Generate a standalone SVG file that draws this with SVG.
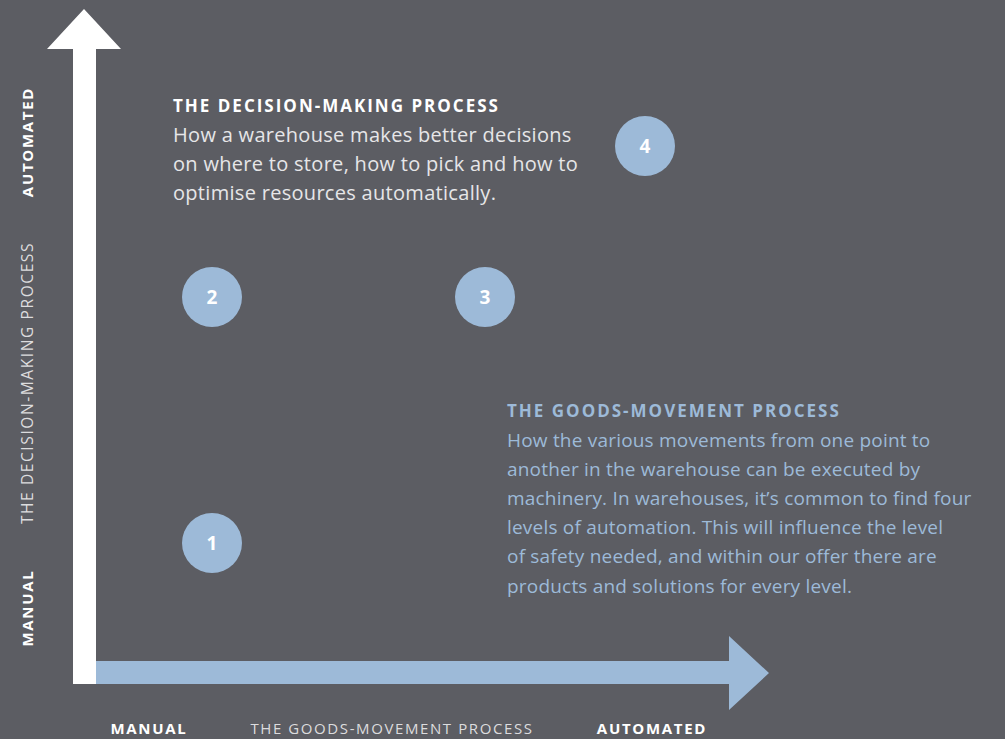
<svg xmlns="http://www.w3.org/2000/svg" width="1005" height="739" viewBox="0 0 1005 739">
<style>
.bg{fill:#5c5d63}
.num{fill:#9dbad8}
.numt{font-family:"Open Sans",Lato,sans-serif;font-weight:700;font-size:19px;fill:#ffffff;text-anchor:middle}
.ax{font-family:"Open Sans",Lato,sans-serif;font-weight:700;font-size:15px;fill:#ffffff;letter-spacing:1.7px}
.axl{font-family:"Open Sans",Lato,sans-serif;font-weight:400;font-size:15px;fill:#dcdcde;letter-spacing:1.6px}
.h{font-family:"Open Sans",Lato,sans-serif;font-weight:700;font-size:17px;letter-spacing:2px}
.b{font-family:"Open Sans",Lato,sans-serif;font-weight:400;font-size:19px;letter-spacing:0.2px}
.b2{font-family:"Open Sans",Lato,sans-serif;font-weight:400;font-size:20px;letter-spacing:0.3px}
</style>
<rect class="bg" x="0" y="0" width="1005" height="739"/>
<g id="connectors">
<polygon id="y-axis" fill="#ffffff" points="73,684 73,49 47,49 84,9 121,49 96,49 96,684"/>
<polygon id="x-axis" fill="#9dbad8" points="96,661 729,661 729,636 769,673 729,710 729,684 96,684"/>
</g>
<g id="axis-labels">
<text class="ax" x="149" y="734" text-anchor="middle">MANUAL</text>
<text class="axl" x="392" y="734" text-anchor="middle">THE GOODS-MOVEMENT PROCESS</text>
<text class="ax" x="652" y="734" text-anchor="middle">AUTOMATED</text>
<text class="ax" transform="translate(33,142) rotate(-90)" text-anchor="middle">AUTOMATED</text>
<text class="axl" transform="translate(33,383) rotate(-90)" text-anchor="middle" style="font-size:15.5px">THE DECISION-MAKING PROCESS</text>
<text class="ax" transform="translate(33,608) rotate(-90)" text-anchor="middle">MANUAL</text>
</g>
<g id="node-1"><circle class="num" cx="212" cy="543" r="30"/><text class="numt" x="212" y="550">1</text></g>
<g id="node-2"><circle class="num" cx="212" cy="297" r="30"/><text class="numt" x="212" y="304">2</text></g>
<g id="node-3"><circle class="num" cx="485" cy="297" r="30"/><text class="numt" x="485" y="304">3</text></g>
<g id="node-4"><circle class="num" cx="645" cy="146" r="30"/><text class="numt" x="645" y="153">4</text></g>
<g id="decision-text">
<text class="h" x="173" y="112" fill="#ffffff">THE DECISION-MAKING PROCESS</text>
<text class="b2" fill="#e6e6e8">
<tspan x="173" y="142">How a warehouse makes better decisions</tspan>
<tspan x="173" y="171">on where to store, how to pick and how to</tspan>
<tspan x="173" y="200">optimise resources automatically.</tspan>
</text>
</g>
<g id="goods-text">
<text class="h" x="507" y="417" fill="#9dbad8">THE GOODS-MOVEMENT PROCESS</text>
<text class="b" fill="#9dbad8">
<tspan x="507" y="447">How the various movements from one point to</tspan>
<tspan x="507" y="476">another in the warehouse can be executed by</tspan>
<tspan x="507" y="505">machinery. In warehouses, it’s common to find four</tspan>
<tspan x="507" y="534">levels of automation. This will influence the level</tspan>
<tspan x="507" y="563">of safety needed, and within our offer there are</tspan>
<tspan x="507" y="593">products and solutions for every level.</tspan>
</text>
</g>
</svg>
